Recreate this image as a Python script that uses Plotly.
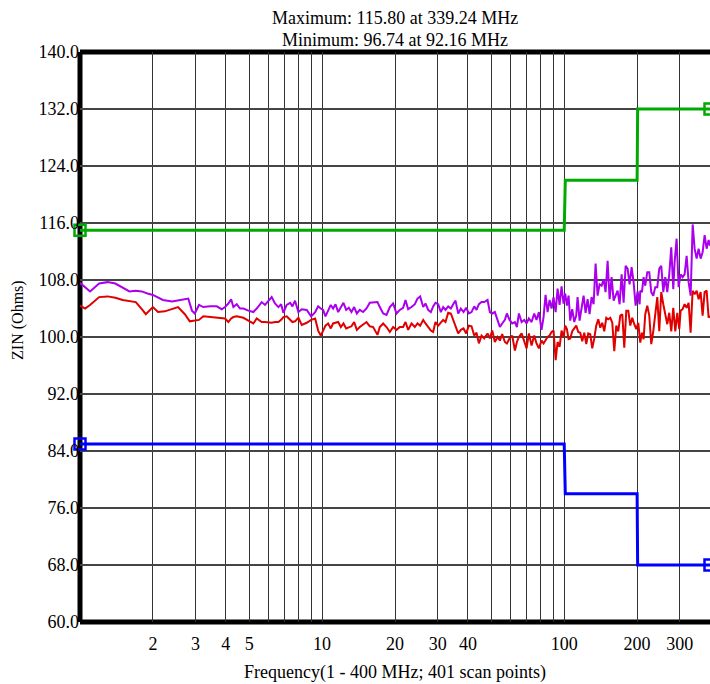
import plotly.graph_objects as go

purple_freq = [1.0, 1.1, 1.2, 1.3, 1.4, 1.5, 1.6, 1.7, 1.8, 1.9, 2.0, 2.2, 2.4, 2.6, 2.8, 2.9, 2.98,
               3.10, 3.23, 3.45, 3.67, 3.85, 3.97, 4.10, 4.21, 4.30, 4.44, 4.58, 4.73, 4.96, 5.20, 5.37,
               5.63, 5.81, 6.19, 6.39, 6.60, 6.77, 6.92, 7.14, 7.38, 7.54, 7.73, 7.98, 8.24, 8.64, 9.01,
               9.36, 9.63, 9.87, 10.10, 10.32, 10.59, 10.86, 11.10, 11.36, 11.65, 11.95, 12.25, 12.57,
               12.89, 13.22, 13.56, 13.91, 14.31, 14.77, 15.25, 15.74, 16.25, 16.93, 17.31, 17.87, 18.45,
               19.04, 19.65, 20.29, 20.94, 21.61, 22.10, 22.67, 23.40, 24.15, 24.77, 25.41, 26.15, 26.73,
               27.42, 28.12, 28.75, 29.39, 30.15, 30.93, 31.62, 32.33, 33.17, 34.02, 34.78, 35.56, 36.48,
               37.41, 38.37, 39.36, 40.37, 41.41, 42.48, 43.43, 44.41, 45.55, 46.72, 48.22, 49.30, 50.41,
               51.70, 53.03, 54.23, 55.43, 56.86, 57.96, 59.46, 60.99, 62.56, 63.76, 64.99, 66.67, 68.38,
               69.92, 71.45, 73.29, 75.16, 76.85, 78.59, 80.60, 82.15, 83.74, 85.35, 86.99, 88.67, 90.34,
               92.16, 93.87, 95.67, 97.50, 99.36, 100.95, 102.57, 104.21, 105.88, 107.92, 109.99, 112.10,
               113.53, 115.72, 117.95, 120.22, 122.53, 124.88, 127.27, 129.71, 132.21, 134.75, 137.34,
               139.99, 142.68, 145.41, 148.21, 151.06, 153.96, 156.92, 159.94, 163.00, 166.13, 169.33,
               172.59, 175.91, 179.28, 182.72, 186.21, 189.78, 193.43, 197.15, 200.95, 204.82, 206.1,
               209.4, 212.7, 216.1, 220.3, 224.5, 228.8, 233.2, 237.7, 242.3, 246.9, 251.6, 256.5, 261.4,
               266.4, 271.5, 276.7, 282.1, 285.7, 291.2, 296.8, 302.5, 308.3, 314.2, 320.3, 326.4, 332.7,
               339.24, 345.6, 352.3, 359.0, 365.9, 372.9, 380.1, 387.4, 394.8, 400.0]
purple_zin = [107.6, 106.4, 107.5, 107.7, 107.5, 106.9, 106.4, 106.5, 106.4, 106.1, 105.9, 105.2, 105.0,
              105.2, 105.4, 103.7, 103.3,
              104.5, 104.2, 104.3, 104.3, 103.9, 104.2, 104.7, 105.3, 104.2, 104.6, 104.0, 104.0, 103.7,
              103.5, 104.0, 104.9, 104.5, 105.6, 104.7, 104.2, 104.6, 103.4, 104.5, 104.8, 104.3, 105.1,
              103.5, 103.9, 103.8, 102.9, 103.5, 104.3, 104.0, 103.8, 102.9, 103.8, 104.5, 104.0, 104.6,
              103.5, 104.2, 104.8, 103.8, 104.1, 103.5, 104.2, 103.3, 103.8, 103.5, 104.0, 104.8, 104.8,
              104.9, 104.2, 103.3, 103.1, 104.2, 104.7, 103.3, 103.8, 104.1, 105.2, 103.9, 104.2, 104.6,
              105.4, 105.7, 104.2, 104.7, 103.8, 103.5, 104.3, 104.8, 104.6, 103.5, 104.2, 103.8, 104.3,
              104.0, 104.6, 105.1, 103.3, 104.0, 103.5, 104.1, 103.3, 103.5, 104.3, 103.8, 104.6, 104.9,
              104.9, 105.2, 103.5, 103.3, 103.5, 102.4, 101.4, 101.9, 102.4, 103.3, 102.4, 101.9, 102.1,
              101.4, 103.3, 102.1, 102.4, 101.9, 102.6, 102.1, 103.3, 102.4, 103.5, 101.0, 102.8, 105.9,
              103.5, 105.2, 104.0, 105.6, 103.5, 106.8, 104.5, 107.1, 104.7, 106.1, 104.4, 105.8, 102.3,
              103.9, 102.1, 103.0, 105.6, 102.3, 104.1, 105.8, 103.4, 105.3, 103.2, 105.6, 104.6, 110.3,
              105.8, 107.4, 107.2, 108.1, 106.3, 110.7, 105.3, 108.4, 105.1, 105.8, 106.5, 104.6, 108.8,
              104.8, 110.0, 109.6, 107.4, 109.8, 107.7, 104.4, 106.4, 104.6, 106.5, 106.3, 108.4, 107.2,
              109.1, 109.1, 106.3, 105.8, 107.0, 107.0, 109.6, 110.0, 106.3, 108.4, 106.3, 108.8, 112.6,
              106.7, 110.5, 113.8, 107.0, 108.8, 108.4, 108.8, 111.4, 107.7, 105.8, 115.8, 112.4, 111.0,
              112.4, 111.0, 111.9, 114.3, 112.4, 113.6, 112.8]

red_freq = [1.0, 1.05, 1.1, 1.2, 1.3, 1.4, 1.5, 1.6, 1.7, 1.8, 1.87, 2.0, 2.1, 2.24, 2.46, 2.54, 2.71,
            2.84, 2.98, 3.10, 3.23, 3.45, 3.67, 3.85, 3.97, 4.10, 4.21, 4.30, 4.44, 4.58, 4.73, 4.96,
            5.20, 5.37, 5.63, 5.81, 6.19, 6.39, 6.60, 6.77, 6.92, 7.14, 7.38, 7.54, 7.73, 7.98, 8.24,
            8.64, 9.01, 9.36, 9.63, 9.87, 10.10, 10.32, 10.59, 10.86, 11.10, 11.36, 11.65, 11.95, 12.25,
            12.57, 12.89, 13.22, 13.56, 13.91, 14.31, 14.77, 15.25, 15.74, 16.25, 16.93, 17.31, 17.87,
            18.45, 19.04, 19.65, 20.29, 20.94, 21.61, 22.10, 22.67, 23.40, 24.15, 24.77, 25.41, 26.15,
            26.73, 27.42, 28.12, 28.75, 29.39, 30.15, 30.93, 31.62, 32.33, 33.17, 34.02, 34.78, 35.56,
            36.48, 37.41, 38.37, 39.36, 40.37, 41.41, 42.48, 43.43, 44.41, 45.55, 46.72, 48.22, 49.30,
            50.41, 51.70, 53.03, 54.23, 55.43, 56.86, 57.96, 59.46, 60.99, 62.56, 63.76, 64.99, 66.67,
            68.38, 69.92, 71.45, 73.29, 75.16, 76.85, 78.59, 80.60, 82.15, 83.74, 85.35, 86.99, 88.67,
            90.34, 92.16, 93.87, 95.67, 97.50, 99.36, 100.95, 102.57, 104.21, 105.88, 107.92, 109.99,
            112.10, 114.26, 116.47, 118.70, 120.98, 123.30, 125.67, 128.08, 130.54, 133.05, 135.61,
            138.22, 140.88, 143.57, 146.34, 149.15, 152.02, 154.95, 157.92, 160.96, 164.04, 167.19,
            170.40, 173.69, 177.02, 180.42, 183.89, 187.39, 190.99, 194.67, 198.41, 202.23, 206.1,
            209.4, 212.7, 216.1, 220.3, 224.5, 228.8, 233.2, 237.7, 242.3, 246.9, 251.6, 256.5, 261.4,
            266.4, 271.5, 276.7, 282.1, 287.5, 293.1, 298.7, 302.5, 308.3, 314.2, 320.3, 326.4, 332.7,
            339.1, 345.6, 352.3, 359.0, 365.9, 372.9, 380.1, 387.4, 394.8, 400.0]
red_zin = [104.4, 104.0, 104.5, 105.6, 105.7, 105.5, 105.2, 105.0, 104.9, 103.9, 103.2, 104.2, 103.5,
           103.6, 104.0, 104.2, 103.2, 102.2, 102.3, 102.4, 102.9, 102.8, 102.7, 102.7, 102.6, 102.1,
           102.6, 102.8, 102.9, 102.8, 102.7, 102.3, 101.9, 102.6, 102.1, 102.1, 102.0, 102.1, 102.1,
           102.4, 102.8, 102.9, 102.4, 102.1, 102.2, 102.7, 101.7, 102.0, 102.4, 102.6, 100.9, 100.2,
           100.9, 101.6, 101.9, 101.2, 101.9, 102.0, 102.1, 101.4, 101.9, 101.2, 101.4, 101.5, 102.1,
           101.0, 101.4, 101.7, 102.1, 101.5, 101.4, 100.3, 101.4, 101.9, 101.4, 100.7, 101.4, 101.0,
           101.4, 101.4, 102.1, 101.0, 101.9, 101.4, 101.9, 101.6, 102.4, 101.9, 101.4, 100.9, 100.7,
           102.1, 101.6, 102.0, 102.4, 102.1, 103.4, 103.3, 102.4, 101.6, 100.5, 101.0, 101.2, 100.5,
           101.6, 101.5, 100.2, 100.6, 99.1, 100.2, 99.8, 100.5, 99.8, 100.9, 99.3, 100.0, 99.5, 100.4,
           99.3, 99.1, 99.8, 100.2, 98.1, 99.3, 100.0, 100.5, 99.5, 98.4, 100.5, 98.8, 100.2, 99.1,
           98.4, 99.5, 99.1, 99.5, 100.0, 100.2, 100.7, 100.9, 96.74, 99.3, 98.6, 100.9, 100.0, 101.6,
           101.1, 99.7, 99.8, 100.8, 101.2, 101.6, 100.7, 100.6, 99.4, 100.6, 99.0, 100.5, 100.4, 98.4,
           99.8, 101.6, 102.5, 101.3, 102.0, 100.8, 102.7, 102.5, 102.7, 102.0, 98.0, 101.6, 100.8,
           103.0, 103.2, 98.5, 103.7, 103.7, 101.6, 102.7, 101.8, 101.1, 102.0, 99.2, 100.6, 99.7,
           103.2, 104.4, 103.0, 99.0, 100.8, 103.4, 105.6, 100.8, 106.3, 104.6, 103.0, 101.8, 103.4,
           100.8, 104.1, 100.8, 103.4, 101.1, 103.7, 103.9, 104.6, 104.1, 104.8, 100.6, 106.5, 106.0,
           106.5, 105.3, 106.3, 103.0, 106.3, 106.5, 102.7, 103.0]

upper_freq = [1, 100, 101, 200, 201, 400]
upper_zin = [115, 115, 122, 122, 132, 132]
lower_freq = [1, 100, 101, 200, 201, 400]
lower_zin = [85, 85, 78, 78, 68, 68]
end_freq = [1, 400]
upper_end_zin = [115, 132]
lower_end_zin = [85, 68]

x_tick_vals = [2, 3, 4, 5, 6, 7, 8, 9, 10, 20, 30, 40, 50, 60, 70, 80, 90, 100, 200, 300]
x_tick_text = ["2", "3", "4", "5", "", "", "", "", "10", "20", "30", "40", "", "", "", "", "",
               "100", "200", "300"]
y_tick_vals = [60, 68, 76, 84, 92, 100, 108, 116, 124, 132, 140]

title_line1 = "Maximum: 115.80 at 339.24 MHz"
title_line2 = "Minimum: 96.74 at 92.16 MHz"
x_title = "Frequency(1 - 400 MHz; 401 scan points)"
y_title = "ZIN (Ohms)"

SERIF = "Liberation Serif, Times New Roman, serif"
GREEN = "#00aa00"
BLUE = "#0000ff"
PURPLE = "#aa00ee"
RED = "#e00000"

fig = go.Figure()
fig.add_trace(go.Scatter(x=purple_freq, y=purple_zin, mode="lines",
                         line=dict(color=PURPLE, width=2)))
fig.add_trace(go.Scatter(x=red_freq, y=red_zin, mode="lines",
                         line=dict(color=RED, width=2)))
fig.add_trace(go.Scatter(x=upper_freq, y=upper_zin, mode="lines",
                         line=dict(color=GREEN, width=3)))
fig.add_trace(go.Scatter(x=lower_freq, y=lower_zin, mode="lines",
                         line=dict(color=BLUE, width=3)))
fig.add_trace(go.Scatter(x=end_freq, y=upper_end_zin, mode="markers", cliponaxis=False,
                         marker=dict(symbol="square-open", size=11, color=GREEN,
                                     line=dict(color=GREEN, width=2.5))))
fig.add_trace(go.Scatter(x=end_freq, y=lower_end_zin, mode="markers", cliponaxis=False,
                         marker=dict(symbol="square-open", size=11, color=BLUE,
                                     line=dict(color=BLUE, width=2.5))))

frame = dict(type="line", xref="paper", yref="paper", line=dict(color="black", width=5),
             layer="below")
title_font = dict(family=SERIF, size=18, color="black")
fig.update_layout(
    width=710, height=684,
    margin=dict(l=80, r=0, t=52, b=62),
    paper_bgcolor="white", plot_bgcolor="white",
    showlegend=False,
    hovermode=False,
    font=dict(family=SERIF, size=18, color="black"),
    xaxis=dict(type="log", range=[0, 2.60206], tickmode="array",
               tickvals=x_tick_vals, ticktext=x_tick_text,
               showgrid=True, gridcolor="#333333", gridwidth=1,
               zeroline=False, showline=False, ticks="", ticklabelstandoff=9,
               tickfont=dict(family=SERIF, size=18),
               title=dict(text=x_title, font=dict(family=SERIF, size=18), standoff=12)),
    yaxis=dict(range=[60, 140], tickmode="array", tickvals=y_tick_vals,
               tickformat=".1f", showgrid=True, gridcolor="#444444", gridwidth=1.5,
               zeroline=False, showline=False, ticks="",
               tickfont=dict(family=SERIF, size=18)),
    annotations=[
        dict(text=title_line1, xref="paper", yref="paper", x=0.5, y=1, xanchor="center",
             yanchor="middle", yshift=34, showarrow=False, font=title_font),
        dict(text=title_line2, xref="paper", yref="paper", x=0.5, y=1, xanchor="center",
             yanchor="middle", yshift=12, showarrow=False, font=title_font),
        dict(text=y_title, xref="paper", yref="paper", x=0, y=0.53, xanchor="center",
             yanchor="middle", xshift=-62, textangle=-90, showarrow=False,
             font=dict(family=SERIF, size=16, color="black")),
    ],
    shapes=[
        dict(frame, x0=0, x1=0, y0=0, y1=1),
        dict(frame, x0=0, x1=1, y0=1, y1=1),
        dict(frame, x0=0, x1=1, y0=0, y1=0),
    ],
)

fig.write_html(
    "out.html",
    config={"displayModeBar": False},
    post_script=("document.body.style.margin='0px';"
                 "document.body.style.overflow='hidden';"
                 "document.documentElement.style.overflow='hidden';"),
)
